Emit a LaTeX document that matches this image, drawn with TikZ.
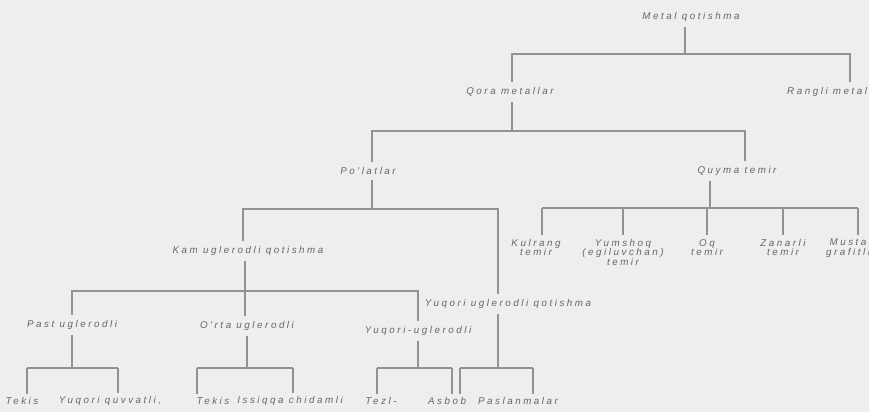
\documentclass[tikz,border=0pt]{standalone}
\usepackage{fontspec}
\newfontfamily\lab[LetterSpace=26]{Liberation Sans}
\definecolor{bg}{HTML}{EEEEF0}
\definecolor{lncol}{HTML}{929292}
\definecolor{txcol}{HTML}{666666}
\begin{document}
\begin{tikzpicture}[x=1pt,y=-1pt,
  lbl/.style={font=\lab\itshape\fontsize{9.8}{9.4}\selectfont, text=txcol, inner sep=2pt, align=center},
  ln/.style={draw=lncol, line width=1.6pt}]
\path[use as bounding box] (0,0) rectangle (869,412);
\fill[bg] (0,0) rectangle (869,412);
\clip (0,0) rectangle (869,412);
% nodes
\node[lbl] (mq) at (691,17) {Metal qotishma};
\node[lbl] (qm) at (510,92) {Qora metallar};
\node[lbl, anchor=west] (rm) at (785,92) {Rangli metallar};
\node[lbl] (pl) at (368,171) {Po'latlar};
\node[lbl] (qt) at (737,171) {Quyma temir};
\node[lbl, anchor=north] (kt) at (536,237) {Kulrang\\temir};
\node[lbl, anchor=north] (yt) at (623,237) {Yumshoq\\(egiluvchan)\\temir};
\node[lbl, anchor=north] (ot) at (707,237) {Oq\\temir};
\node[lbl, anchor=north] (zt) at (783,237) {Zanarli\\temir};
\node[lbl, anchor=north] (mg) at (848,237) {Musta\\grafitli};
\node[lbl] (ku) at (248,251) {Kam uglerodli qotishma};
\node[lbl] (yq) at (508,304) {Yuqori uglerodli qotishma};
\node[lbl] (pu) at (72,325) {Past uglerodli};
\node[lbl] (ou) at (247,326) {O'rta uglerodli};
\node[lbl] (yu) at (418,331) {Yuqori-uglerodli};
\node[lbl] (b1) at (22,401) {Tekis};
\node[lbl] (b2) at (110,401) {Yuqori quvvatli,};
\node[lbl] (b3) at (213,401) {Tekis};
\node[lbl] (b4) at (290,401) {Issiqqa chidamli};
\node[lbl] (b5) at (381,401) {Tezl-};
\node[lbl] (b6) at (447,401) {Asbob};
\node[lbl] (b7) at (518,401) {Paslanmalar};
% junction coordinates
\coordinate (mqb) at (685,54);
\coordinate (m2) at (850,54);
\coordinate (qmx) at (512,0);
\coordinate (qmb) at (512,131);
\coordinate (plx) at (372,0);
\coordinate (qtx) at (745,131);
\coordinate (plb) at (372,209);
\coordinate (kux) at (243,209);
\coordinate (yqx) at (498,209);
\coordinate (qtb) at (710,208);
\coordinate (c1) at (542,208);
\coordinate (c2) at (623,208);
\coordinate (c3) at (707,208);
\coordinate (c4) at (783,208);
\coordinate (c5) at (858,208);
\coordinate (kb) at (245,291);
\coordinate (p1) at (27,368);
\coordinate (p2) at (118,368);
\coordinate (o1) at (197,368);
\coordinate (o2) at (293,368);
\coordinate (y1) at (377,368);
\coordinate (y2) at (452,368);
\coordinate (q1) at (460,368);
\coordinate (q2) at (533,368);
\coordinate (yqb) at (498,368);
% Metal qotishma
\draw[ln, shorten <=3pt] (mq.south -| mqb) -- (mqb);
\draw[ln, shorten <=3pt, shorten >=3pt] (qm.north -| qmx) |- (mqb) -| (rm.north -| m2);
% Qora metallar
\draw[ln, shorten <=3pt] (qm.south -| qmx) -- (qmb);
\draw[ln, shorten <=3pt, shorten >=3pt] (pl.north -| plx) |- (qmb) -| (qt.north -| qtx);
% Po'latlar
\draw[ln, shorten <=3pt] (pl.south -| plx) -- (plb);
\draw[ln, shorten <=3pt, shorten >=3pt] (ku.north -| kux) |- (plb) -| (yq.north -| yqx);
% Quyma temir
\draw[ln, shorten <=3pt] (qt.south -| qtb) -- (qtb);
\draw[ln] (c1) -- (c5);
\draw[ln, shorten >=2pt] (c1) -- (kt.north -| c1);
\draw[ln, shorten >=2pt] (c2) -- (yt.north -| c2);
\draw[ln, shorten >=2pt] (c3) -- (ot.north -| c3);
\draw[ln, shorten >=2pt] (c4) -- (zt.north -| c4);
\draw[ln, shorten >=2pt] (c5) -- (mg.north -| c5);
% Kam uglerodli
\draw[ln, shorten <=3pt, shorten >=3pt] (ku.south -| kb) -- (ou.north -| kb);
\draw[ln, shorten <=3pt, shorten >=3pt] (pu.north) |- (kb) -| (yu.north);
% Past
\draw[ln, shorten <=3pt] (pu.south) -- (pu.south |- p1);
\draw[ln] (p1) -- (p2);
\draw[ln, shorten >=1pt] (p1) -- (b1.north -| p1);
\draw[ln, shorten >=1pt] (p2) -- (b2.north -| p2);
% O'rta
\draw[ln, shorten <=3pt] (ou.south) -- (ou.south |- o1);
\draw[ln] (o1) -- (o2);
\draw[ln, shorten >=1pt] (o1) -- (b3.north -| o1);
\draw[ln, shorten >=1pt] (o2) -- (b4.north -| o2);
% Yuqori-uglerodli
\draw[ln, shorten <=3pt] (yu.south) -- (yu.south |- y1);
\draw[ln] (y1) -- (y2);
\draw[ln, shorten >=1pt] (y1) -- (b5.north -| y1);
\draw[ln, shorten >=1pt] (y2) -- (b6.north -| y2);
% Yuqori uglerodli qotishma
\draw[ln, shorten <=3pt] (yq.south -| yqb) -- (yqb);
\draw[ln] (q1) -- (q2);
\draw[ln, shorten >=1pt] (q1) -- (b6.north -| q1);
\draw[ln, shorten >=1pt] (q2) -- (b7.north -| q2);
\end{tikzpicture}
\end{document}
